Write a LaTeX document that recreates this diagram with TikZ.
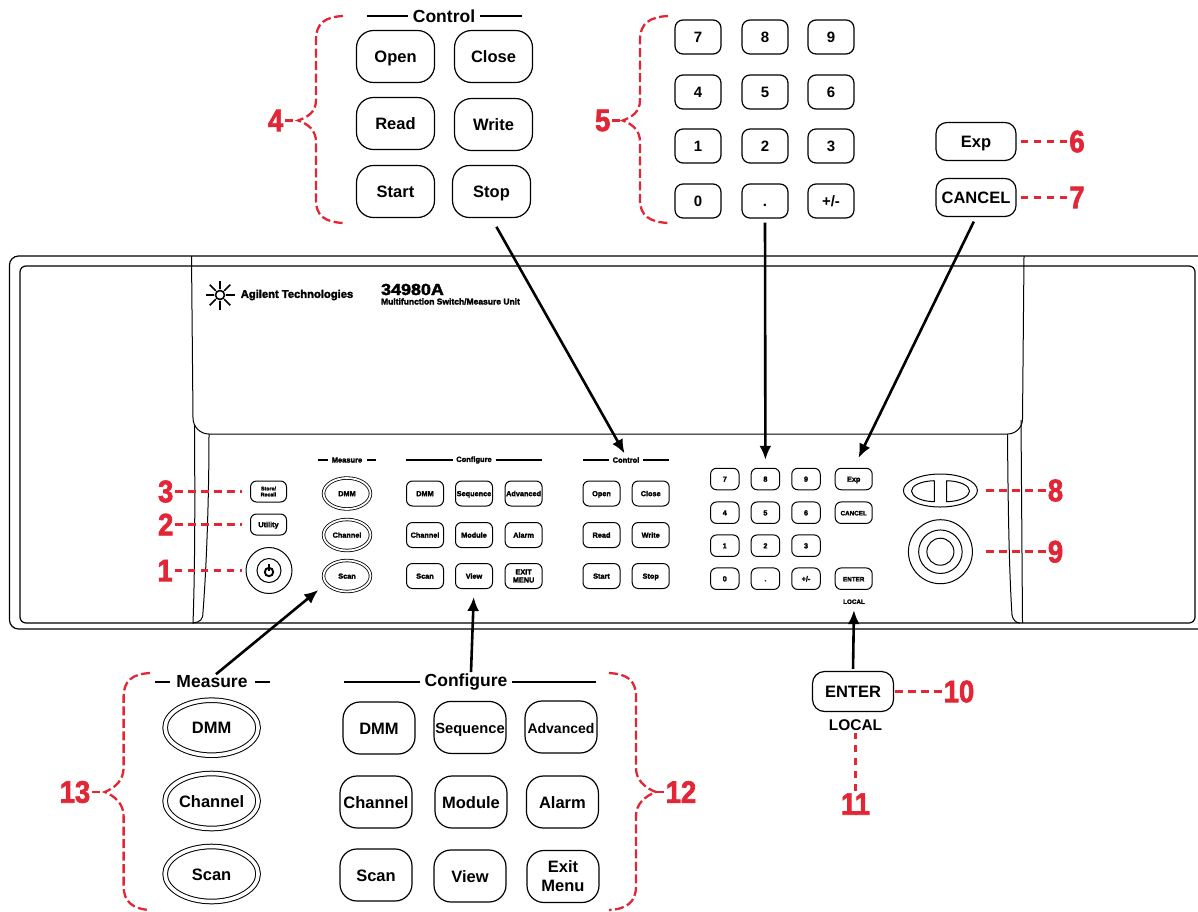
\documentclass[tikz,border=0pt]{standalone}
\usepackage{fontspec}
\setmainfont{Liberation Sans}
\newfontfamily\numfont[FakeStretch=0.88,FakeBold=2.2]{Liberation Sans Bold}
\newfontfamily\heavyfont[FakeBold=2.5]{Liberation Sans Bold}
\newfontfamily\modelfont[FakeBold=2.5,FakeStretch=1.12]{Liberation Sans Bold}
\usetikzlibrary{positioning,arrows.meta,shapes.geometric}
\definecolor{callred}{RGB}{227,38,54}
\tikzset{
	bigkey/.style={draw,rounded corners=17pt,line width=1.2pt,minimum width=78pt,minimum height=52pt,inner sep=0pt,align=center,text height=12pt,text depth=0pt,font=\fontsize{16.5}{19}\bfseries\selectfont},
	widekey/.style={bigkey,minimum width=72pt},
	numkey/.style={draw,rounded corners=8pt,line width=1.2pt,minimum width=46pt,minimum height=34pt,inner sep=0pt,text height=11pt,text depth=0pt,font=\fontsize{15}{17}\bfseries\selectfont},
	flatkey/.style={draw,rounded corners=11pt,line width=1.2pt,minimum width=80pt,minimum height=38pt,inner sep=0pt,text height=12pt,text depth=0pt,font=\fontsize{16.5}{19}\bfseries\selectfont},
	bigoval/.style={ellipse,draw,double,double distance=3.6pt,line width=1pt,minimum width=93pt,minimum height=55pt,inner sep=0pt,text height=12pt,text depth=0pt,font=\fontsize{16.5}{19}\bfseries\selectfont},
	panelkey/.style={draw,rounded corners=6pt,line width=1pt,minimum width=37pt,minimum height=25pt,inner sep=0pt,align=center,text height=5.3pt,text depth=0pt,font=\heavyfont\fontsize{7.3}{8}\selectfont},
	paneldigit/.style={panelkey,minimum width=28.5pt,minimum height=21.5pt},
	paneloval/.style={ellipse,draw,double,double distance=1.8pt,line width=.8pt,minimum width=47pt,minimum height=31pt,inner sep=0pt,text height=5.3pt,text depth=0pt,font=\heavyfont\fontsize{7.3}{8}\selectfont},
	title/.style={inner sep=1pt,font=\fontsize{17.5}{19}\bfseries\selectfont},
	paneltitle/.style={inner sep=1pt,font=\heavyfont\fontsize{7.5}{8}\selectfont},
	bar/.style={line width=2.6pt},
	panelbar/.style={line width=1.5pt},
	callout/.style={text=callred,inner sep=2pt,font=\numfont\fontsize{31}{31}\selectfont},
	lead/.style={draw=callred,line width=2.8pt,dash pattern=on 7.5pt off 5.5pt,shorten >=8pt},
	brace/.style={draw=callred,line width=2.3pt,dash pattern=on 9pt off 3.5pt},
	pointer/.style={->,line width=2.6pt,shorten >=9pt,shorten <=5pt}
}

\begin{document}
\begin{tikzpicture}[x=1pt,y=-1pt,>={Latex[length=14pt,width=12pt]}]
	\useasboundingbox (0,0) rectangle (1198,911);

	% instrument body
	\draw[line width=1.2pt,rounded corners=9pt] (1198,256)--(9.5,256)--(9.5,629)--(1198,629);
	\draw[line width=1.2pt,rounded corners=6pt] (20,266) rectangle (1195,623);
	\draw[line width=1pt] (191.5,256)--(193,418) arc[start angle=180,end angle=90,radius=16]--(1007.5,434) arc[start angle=90,end angle=0,radius=15]--(1024,256);
	\draw[line width=1pt] (194.5,425) .. controls (195,500) and (195,570) .. (193,623) .. controls (200,622) and (203,620) .. (203,612) .. controls (207,560) and (209,490) .. (209,434);
	\draw[line width=1pt] (1007.5,434) .. controls (1008,500) and (1009,570) .. (1012,615) .. controls (1013,620) and (1016,623) .. (1020,623);
	\draw[line width=1pt] (1021,420)--(1022.5,623);

	% logo and model
	\coordinate (logo) at (220,295);
	\draw[line width=1.6pt] (logo) circle[radius=4.5];
	\foreach \a in {0,45,...,315}
		\draw[line width=1.6pt] (logo)++(\a:6)-- ++(\a:8.5);
	\node[inner sep=0pt,font=\heavyfont\fontsize{11.2}{12}\selectfont] (brand) at (297,295) {Agilent Technologies};
	\node[inner sep=0pt,font=\modelfont\fontsize{16}{16}\selectfont] (model) at (412.5,289.5) {34980A};
	\node[inner sep=0pt,font=\heavyfont\fontsize{8.5}{9}\selectfont] (modelsub) at (450.5,301.5) {Multifunction Switch/Measure Unit};

	% panel keys
	\node[panelkey,minimum width=36pt,minimum height=21pt,text height=,text depth=,font=\heavyfont\fontsize{5.3}{6}\selectfont] (pStore) at (268.5,491.5) {Store/\\Recall};
	\node[panelkey,minimum width=36pt,minimum height=21pt] (pUtility) at (268.5,524.5) {Utility};
	\node[circle,draw,line width=1pt,minimum size=46pt] (pPower) at (269,570.5) {};
	\node[circle,draw,line width=1pt,minimum size=24pt] (pPowerIn) at (269,570.5) {};
	\draw[line width=1.9pt] (269,572) circle[radius=4.2];
	\draw[line width=1.9pt] (269,564)--(269,570.5);

	\node[paneltitle] (pMeasure) at (347,460) {Measure};
	\draw[panelbar] (318,460)--(327.5,460);
	\draw[panelbar] (367,460)--(376,460);
	\foreach \nm/\lab/\y in {pmDMM/DMM/493.5,pmChannel/Channel/535,pmScan/Scan/576}
		\node[paneloval] (\nm) at (347,\y) {\lab};

	\node[paneltitle] (pConfigure) at (474,460) {Configure};
	\draw[panelbar] (406,460)--(453,460);
	\draw[panelbar] (496,460)--(542,460);
	\foreach \nm/\lab/\x/\y in {pcDMM/DMM/425/493.5,pcSeq/Sequence/474/493.5,pcAdv/Advanced/523.6/493.5,
		pcChannel/Channel/425/535,pcModule/Module/474/535,pcAlarm/Alarm/523.6/535,
		pcScan/Scan/425/576,pcView/View/474/576}
		\node[panelkey] (\nm) at (\x,\y) {\lab};
	\node[panelkey,text height=,text depth=] (pcExit) at (523.6,576) {EXIT\\MENU};

	\node[paneltitle] (pControl) at (626,460) {Control};
	\draw[panelbar] (583,460)--(609,460);
	\draw[panelbar] (643,460)--(669,460);
	\foreach \nm/\lab/\x/\y in {pOpen/Open/601.5/493.5,pClose/Close/650.7/493.5,
		pRead/Read/601.5/535,pWrite/Write/650.7/535,
		pStart/Start/601.5/576,pStop/Stop/650.7/576}
		\node[panelkey] (\nm) at (\x,\y) {\lab};

	\foreach \nm/\lab/\x/\y in {p7/7/724.8/479,p8/8/765.4/479,p9/9/806/479,
		p4/4/724.8/512.7,p5/5/765.4/512.7,p6/6/806/512.7,
		p1/1/724.8/545.7,p2/2/765.4/545.7,p3/3/806/545.7,
		p0/0/724.8/578.7,pDot/./765.4/578.7,pSign/{+/-}/806/578.7}
		\node[paneldigit] (\nm) at (\x,\y) {\lab};
	\node[panelkey,minimum height=21.5pt] (pExp) at (853.7,479) {Exp};
	\node[panelkey,minimum height=21.5pt,font=\heavyfont\fontsize{6.3}{7}\selectfont] (pCancel) at (853.7,512.7) {CANCEL};
	\node[panelkey,minimum height=21.5pt,font=\heavyfont\fontsize{6.3}{7}\selectfont] (pEnter) at (853.7,578.7) {ENTER};
	\node[paneltitle,font=\heavyfont\fontsize{6.3}{7}\selectfont] (pLocal) at (854,601.7) {LOCAL};

	% arrow keys and knob
	\node[ellipse,draw,line width=1pt,minimum width=74pt,minimum height=33pt,inner sep=0pt] (pArrows) at (940.4,490.5) {};
	\draw[line width=1pt] (934.3,480.7)--(934.3,501.7) .. controls (920,501.5) and (911.5,496) .. (911.5,491) .. controls (911.5,486) and (920,481) .. (934.3,480.7);
	\draw[line width=1pt] (946.5,480.7)--(946.5,501.7) .. controls (961,501.5) and (969.5,496) .. (969.5,491) .. controls (969.5,486) and (961,481) .. (946.5,480.7);
	\node[circle,draw,line width=1pt,minimum size=64pt] (pKnob) at (940.4,551.7) {};
	\node[circle,draw,line width=1pt,minimum size=43.5pt] (pKnobMid) at (940.4,551.7) {};
	\node[circle,draw,line width=1pt,minimum size=27pt] (pKnobIn) at (940.4,551.7) {};

	% enlarged control keys
	\node[title] (bControl) at (444,16) {Control};
	\draw[bar] (367,16)--(408,16);
	\draw[bar] (480,16)--(522,16);
	\foreach \nm/\lab/\x/\y in {bOpen/Open/395.5/56.5,bClose/Close/493.5/56.5,
		bRead/Read/395.5/123.5,bWrite/Write/493.5/124.5,
		bStart/Start/395.5/191.5,bStop/Stop/491.5/191.5}
		\node[bigkey] (\nm) at (\x,\y) {\lab};

	% enlarged number keys
	\foreach \nm/\lab/\x/\y in {b7/7/698/37,b8/8/765/37,b9/9/831/37,
		b4/4/698/92,b5/5/765/92,b6/6/831/92,
		b1/1/698/146,b2/2/765/146,b3/3/831/146,
		b0/0/698/201,bDot/./765/201,bSign/{+/-}/831/201}
		\node[numkey] (\nm) at (\x,\y) {\lab};
	\node[flatkey] (bExp) at (976,141.5) {Exp};
	\node[flatkey] (bCancel) at (976,197.5) {CANCEL};
	\node[flatkey,minimum width=81pt,minimum height=40pt,rounded corners=12pt] (bEnter) at (853,691.5) {ENTER};
	\node[inner sep=1pt,font=\fontsize{15.5}{17}\bfseries\selectfont] (bLocal) at (855.5,725) {LOCAL};

	% enlarged measure and configure keys
	\node[title] (bMeasure) at (212,681.5) {Measure};
	\draw[bar] (155,682)--(170,682);
	\draw[bar] (255,682)--(270,682);
	\foreach \nm/\lab/\y in {mDMM/DMM/727.7,mChannel/Channel/801,mScan/Scan/874}
		\node[bigoval] (\nm) at (211.6,\y) {\lab};

	\node[title] (bConfigure) at (466,681.5) {Configure};
	\draw[bar] (344,682)--(419.5,682);
	\draw[bar] (512,682)--(596,682);
	\foreach \nm/\lab/\x/\y in {cDMM/DMM/379/728,cChannel/Channel/376/802,cModule/Module/471/802,cAlarm/Alarm/562.4/802,
		cScan/Scan/376/875,cView/View/470/876}
		\node[widekey] (\nm) at (\x,\y) {\lab};
	\node[widekey,text height=,text depth=] (cExit) at (563,876.5) {Exit\\Menu};
	\node[widekey,font=\fontsize{14.7}{16}\bfseries\selectfont] (cSeq) at (470,727.4) {Sequence};
	\node[widekey,font=\fontsize{14}{16}\bfseries\selectfont] (cAdv) at (561,727) {Advanced};

	% black pointers
	\draw[pointer,shorten <=10pt,shorten >=3pt] (bStop.south)--(pControl.north);
	\draw[pointer,shorten <=4pt,shorten >=8pt] (bDot.south)--(p8.north);
	\draw[pointer,shorten >=11pt] (bCancel.south)--(pExp.north);
	\draw[pointer,shorten <=2pt,shorten >=5pt] (bEnter.north)--(pLocal.south);
	\draw[pointer,shorten <=0pt,shorten >=8pt] ([xshift=5pt]bConfigure.north)--(pcView.south);
	\draw[pointer,shorten <=0pt,shorten >=10pt] ([xshift=4pt]bMeasure.north)--(pmScan.200);

	% red callouts
	\node[callout] (n1) at (165,570.5) {1};
	\node[callout] (n2) at (165.7,524.5) {2};
	\node[callout] (n3) at (165.7,491.5) {3};
	\draw[lead,shorten >=4pt] (n1)--(pPower);
	\draw[lead] (n2)--(pUtility);
	\draw[lead] (n3)--(pStore);

	\node[callout] (n4) at (275.7,120.5) {4};
	\coordinate (tip4) at (298,120.5);
	\draw[lead,shorten >=0pt] (n4)--(tip4);
	\draw[brace] (343,16) .. controls (325,17) and (316,23) .. (316,40)--(316,100) .. controls (316,112) and (308,117) .. (tip4) .. controls (308,124) and (316,130) .. (316,142)--(316,200) .. controls (316,216) and (325,222) .. (343,223);

	\node[callout] (n5) at (602.7,120.5) {5};
	\coordinate (tip5) at (622.7,120.5);
	\draw[lead,shorten >=0pt] (n5)--(tip5);
	\draw[brace] (668,16) .. controls (650,17) and (640,23) .. (640,40)--(640,100) .. controls (640,112) and (632,117) .. (tip5) .. controls (632,124) and (640,130) .. (640,142)--(640,200) .. controls (640,216) and (650,222) .. (668,223);

	\node[callout] (n6) at (1077,141.5) {6};
	\node[callout] (n7) at (1077,197.5) {7};
	\draw[lead,shorten >=-1pt] (n6)--(bExp);
	\draw[lead,shorten >=-1pt] (n7)--(bCancel);

	\node[callout] (n8) at (1055.5,490.5) {8};
	\node[callout] (n9) at (1055.5,551.7) {9};
	\draw[lead] (n8)--(pArrows);
	\draw[lead] (n9)--(pKnob);

	\node[callout] (n10) at (959,691.5) {10};
	\node[callout] (n11) at (855.5,804) {11};
	\draw[lead,shorten >=0pt] (n10)--(bEnter);
	\draw[lead,shorten >=1pt] (n11)--(bLocal);

	\node[callout] (n12) at (681,792) {12};
	\coordinate (tip12) at (656,792);
	\draw[lead,shorten >=0pt] (n12)--(tip12);
	\draw[brace] (609,673) .. controls (627,674) and (636,680) .. (636,697)--(636,768) .. controls (636,780) and (645,788) .. (tip12) .. controls (645,796) and (636,804) .. (636,816)--(636,886) .. controls (636,902) and (627,909) .. (609,910);

	\node[callout] (n13) at (75,792) {13};
	\coordinate (tip13) at (104.7,792);
	\draw[lead,shorten >=0pt] (n13)--(tip13);
	\draw[brace] (150,673) .. controls (133,674) and (123.6,680) .. (123.6,697)--(123.6,768) .. controls (123.6,780) and (115,788) .. (tip13) .. controls (115,796) and (123.6,804) .. (123.6,816)--(123.6,886) .. controls (123.6,902) and (133,909) .. (150,910);
\end{tikzpicture}
\end{document}
